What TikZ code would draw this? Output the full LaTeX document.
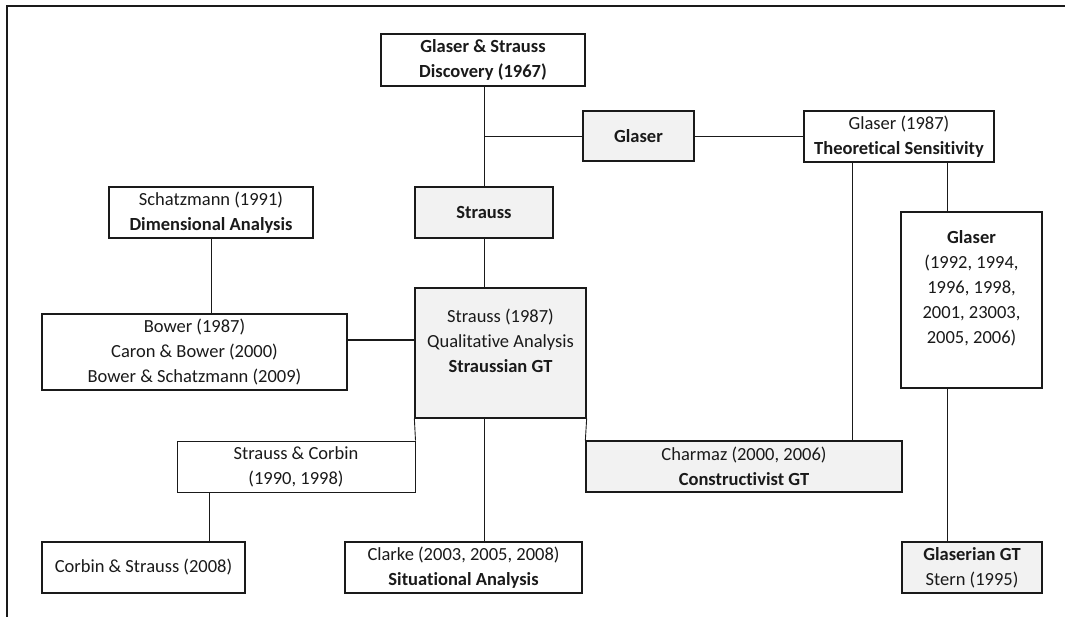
\documentclass[tikz,border=0pt]{standalone}
\usepackage{fontspec}
\setmainfont{Carlito}[Ligatures={NoCommon}]
\definecolor{boxgray}{HTML}{F2F2F2}
\definecolor{ink}{HTML}{1A1A1A}
\tikzset{
  box/.style={draw=ink, line width=1.3pt, fill=white, rectangle, inner sep=0pt,
    align=center, text=ink, font=\fontsize{18.5}{25}\selectfont},
  shaded/.style={box, fill=boxgray},
  link/.style={draw=ink, line width=0.9pt},
  boldlink/.style={draw=ink, line width=1.7pt},
}
\begin{document}
\begin{tikzpicture}[x=1pt, y=-1pt]
\useasboundingbox (0,0) rectangle (1065,617);
% outer frame (top and left rules)
\draw[ink, line width=2pt] (1065,6.5) -- (7,6.5) -- (7,617);

% boxes
\node[box, line width=2.6pt, minimum width=204pt, minimum height=52pt] (gs) at (483,60)
  {\textbf{Glaser \& Strauss}\\\textbf{Discovery (1967)}};
\node[shaded, minimum width=111pt, minimum height=50pt] (glaserA) at (638.5,136) {\textbf{Glaser}};
\node[box, minimum width=190pt, minimum height=51pt] (theo) at (899,136.5)
  {Glaser (1987)\\\textbf{Theoretical Sensitivity}};
\node[shaded, minimum width=138pt, minimum height=51pt] (strauss) at (484,212.5) {\textbf{Strauss}};
\node[box, minimum width=204pt, minimum height=51pt] (schatz) at (211,212.5)
  {Schatzmann (1991)\\\textbf{Dimensional Analysis}};
\node[box, minimum width=141pt, minimum height=176pt] (glaserB) at (971.5,300)
  {\textbf{Glaser}\\(1992, 1994,\\1996, 1998,\\2001, 23003,\\2005, 2006)\\[0pt]\mbox{}};
\node[box, minimum width=305pt, minimum height=76pt] (bower) at (194.5,352)
  {Bower (1987)\\Caron \& Bower (2000)\\Bower \& Schatzmann (2009)};
\node[shaded, minimum width=171pt, minimum height=130pt] (s87) at (500.5,353)
  {Strauss (1987)\\Qualitative Analysis\\\textbf{Straussian GT}\\[0pt]\mbox{}};
\node[shaded, minimum width=316pt, minimum height=51pt] (charmaz) at (744,466.5)
  {Charmaz (2000, 2006)\\\textbf{Constructivist GT}};
\node[box, line width=1pt, minimum width=238pt, minimum height=51pt] (sc) at (296,466.5)
  {Strauss \& Corbin\\(1990, 1998)};
\node[box, minimum width=203pt, minimum height=51pt] (corbin) at (143.5,567.5)
  {Corbin \& Strauss (2008)};
\node[box, minimum width=237pt, minimum height=51pt] (clarke) at (463.5,567.5)
  {Clarke (2003, 2005, 2008)\\\textbf{Situational Analysis}};
\node[shaded, minimum width=140pt, minimum height=51pt] (glaserian) at (972,567.5)
  {\textbf{Glaserian GT}\\Stern (1995)};

% connectors
\coordinate (trunk) at (484,0);
\draw[link] (trunk |- gs.south) -- (trunk |- strauss.north);
\draw[link] (trunk |- glaserA.west) -- (glaserA.west);
\draw[link] (glaserA.east) -- (glaserA.east -| theo.west);
\draw[link] (trunk |- strauss.south) -- (trunk |- s87.north);
\draw[link] (schatz.south) -- (schatz.south |- bower.north);
\draw[boldlink] ([yshift=12pt]bower.east) -- ([yshift=12pt]bower.east -| s87.west);
\draw[link] (s87.south west) -- (sc.north east);
\draw[link] (trunk |- s87.south) -- (trunk |- clarke.north);
\draw[link] (s87.south east) -- (charmaz.north west);
\draw[link] ([xshift=33pt]sc.south west) -- ([xshift=33pt]sc.south west |- corbin.north);
\draw[boldlink] ([xshift=49pt]theo.south west) -- ([xshift=49pt]theo.south west |- charmaz.north);
\draw[boldlink] ([xshift=144pt]theo.south west) -- ([xshift=144pt]theo.south west |- glaserB.north);
\draw[boldlink] ([xshift=144pt]theo.south west |- glaserB.south) -- ([xshift=144pt]theo.south west |- glaserian.north);
\end{tikzpicture}
\end{document}
